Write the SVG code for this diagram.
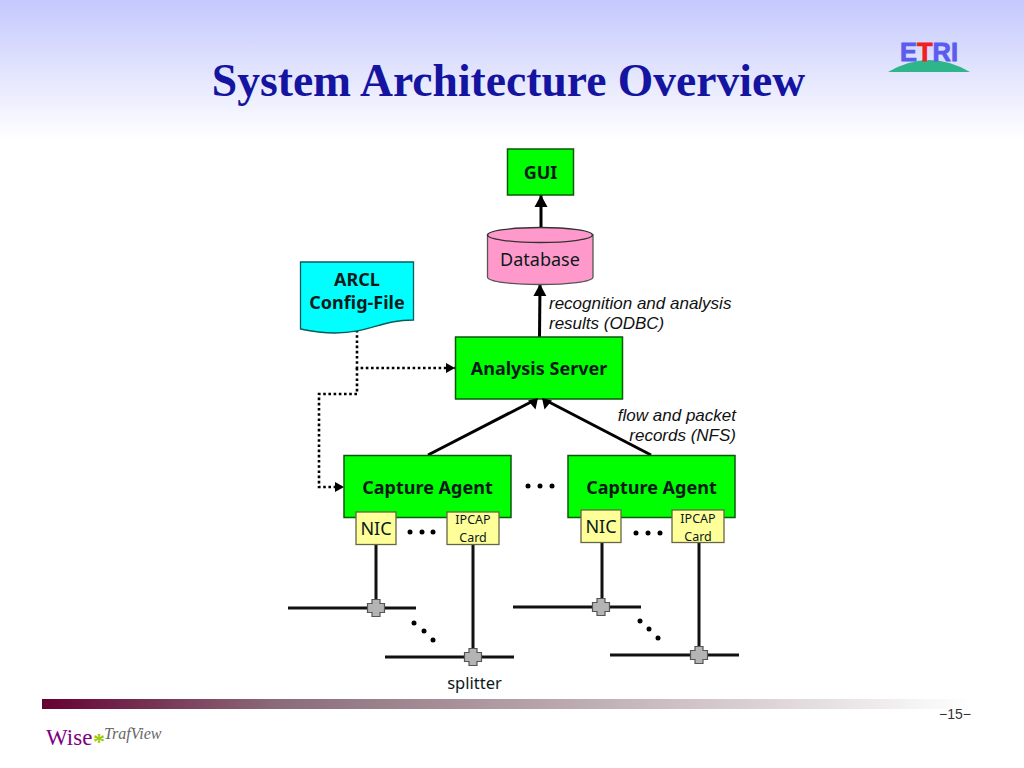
<svg xmlns="http://www.w3.org/2000/svg" width="1024" height="768" viewBox="0 0 1024 768">
<style>
.n{stroke:#0a5a0a;stroke-width:1.5;fill:#00ff00}
.y{fill:#ffff99;stroke:#666644;stroke-width:1.3}
.l{font-family:"Noto Sans",sans-serif;fill:#0a1a1a;text-anchor:middle}
.b{font-weight:bold;font-size:18px}
.i{font-family:"Liberation Sans",Arial,sans-serif;font-style:italic;font-size:17px;fill:#111}
.c{fill:none;stroke:#000;stroke-width:3}
.d{fill:none;stroke:#000;stroke-width:2.6;stroke-dasharray:2.6 2.6}
.w{fill:none;stroke:#111;stroke-width:3}
.s{fill:#b4b4b4;stroke:#555;stroke-width:1.2}
.dot{fill:#000}
</style>
<defs>
<linearGradient id="bg" x1="0" y1="0" x2="0" y2="1"><stop offset="0" stop-color="#c4c8fc"/><stop offset="1" stop-color="#ffffff"/></linearGradient>
<linearGradient id="bar" x1="0" y1="0" x2="1" y2="0"><stop offset="0" stop-color="#660033"/><stop offset="0.25" stop-color="#8a6a78"/><stop offset="1" stop-color="#ffffff"/></linearGradient>
<marker id="a" markerUnits="userSpaceOnUse" markerWidth="14" markerHeight="14" refX="12" refY="7" orient="auto"><path d="M0 0.500L12 7L0 13.500z" fill="#000"/></marker>
<marker id="a2" markerUnits="userSpaceOnUse" markerWidth="10" markerHeight="10" refX="9" refY="5" orient="auto"><path d="M0 0L9 5L0 10z" fill="#000"/></marker>
<path id="sp" class="s" d="M-4 -8.500H4V-4.500H8.500V4.500H4V8.500H-4V4.500H-8.500V-4.500H-4z"/>
</defs>
<rect width="1024" height="140" fill="url(#bg)"/>
<text x="508.500" y="96" font-family="Liberation Serif,serif" font-weight="bold" font-size="45.600" fill="#1414a0" text-anchor="middle">System Architecture Overview</text>
<g id="etri-logo">
<path d="M888 72Q929 48 970 72z" fill="#2fb58a"/>
<text x="929" y="61" font-family="Liberation Sans,sans-serif" font-weight="bold" font-size="26" fill="#5a5cf0" stroke="#5a5cf0" stroke-width="0.800" text-anchor="middle" textLength="58" lengthAdjust="spacingAndGlyphs">E<tspan fill="#f02020" stroke="#f02020">T</tspan>RI</text>
</g>
<g id="connectors">
<path class="c" d="M541 228V195" marker-end="url(#a)"/>
<path class="c" d="M539.500 337L540 284" marker-end="url(#a)"/>
<path class="c" d="M428 455L531 402"/>
<path class="c" d="M651 455L549 402"/>
<path class="d" d="M357 330V368H455" marker-end="url(#a2)"/>
<path class="d" d="M357 368V394H319V487H344" marker-end="url(#a2)"/>
<path class="w" d="M376 545V608M288 608H416M473 545V657M385 657H514M602 543V607M513 607H641M699 543V655M610 655H739"/>
</g>
<g id="gui"><rect class="n" x="507.500" y="149" width="66" height="46"/><text class="l b" x="540.500" y="179">GUI</text></g>
<g id="database">
<path d="M487.500 235V277C487.500 287 593 287 593 277V235z" fill="#ff99cc" stroke="#555" stroke-width="1.3"/>
<ellipse cx="540" cy="235" rx="52.500" ry="7.500" fill="#ff99cc" stroke="#333" stroke-width="1.3"/>
<text class="l" x="540" y="266" font-size="18">Database</text>
</g>
<g id="arcl">
<path d="M300.500 262H413.500V320C380 320 370 333 335 333C320 333 310 331 300.500 329z" fill="#00ffff" stroke="#0a5a5a" stroke-width="1.3"/>
<text class="l b" x="357" y="286">ARCL</text><text class="l b" x="357" y="309">Config-File</text>
</g>
<g id="analysis"><rect class="n" x="455.500" y="337" width="167" height="62"/><text class="l b" x="539" y="375">Analysis Server</text></g>
<g id="agent1"><rect class="n" x="344" y="455.500" width="167" height="62"/><text class="l b" x="427.500" y="494">Capture Agent</text></g>
<g id="agent2"><rect class="n" x="568" y="455.500" width="167" height="62"/><text class="l b" x="651.500" y="494">Capture Agent</text></g>
<g id="nic1"><rect class="y" x="356" y="512" width="40" height="32.500"/><text class="l" x="376" y="535" font-size="18">NIC</text></g>
<g id="ipcap1"><rect class="y" x="447" y="512" width="52" height="32.500"/><text class="l" x="473" y="524" font-size="12.500">IPCAP</text><text class="l" x="473" y="542" font-size="12.500">Card</text></g>
<g id="nic2"><rect class="y" x="581" y="510" width="40" height="32.500"/><text class="l" x="601" y="533" font-size="18">NIC</text></g>
<g id="ipcap2"><rect class="y" x="672" y="510" width="52" height="32.500"/><text class="l" x="698" y="523" font-size="12.500">IPCAP</text><text class="l" x="698" y="541" font-size="12.500">Card</text></g>
<g id="arrowheads"><path fill="#000" d="M538 398L528 400.500L535.500 409.500zM542 398L552 400.500L544.500 409.500z"/></g>
<g id="splitters">
<use href="#sp" x="376" y="608"/><use href="#sp" x="473" y="657"/><use href="#sp" x="601" y="607"/><use href="#sp" x="699" y="655"/>
</g>
<g id="ellipses" class="dot">
<circle cx="528" cy="486" r="2.500"/><circle cx="540" cy="486" r="2.500"/><circle cx="552" cy="486" r="2.500"/>
<circle cx="410" cy="532" r="2.500"/><circle cx="422" cy="532" r="2.500"/><circle cx="433" cy="532" r="2.500"/>
<circle cx="636" cy="533" r="2.500"/><circle cx="648" cy="533" r="2.500"/><circle cx="660" cy="533" r="2.500"/>
<circle cx="414" cy="623" r="2.500"/><circle cx="424" cy="631" r="2.500"/><circle cx="433" cy="640" r="2.500"/>
<circle cx="640" cy="621" r="2.500"/><circle cx="649" cy="629" r="2.500"/><circle cx="658" cy="638" r="2.500"/>
</g>
<g id="labels">
<text class="i" x="549" y="309">recognition and analysis</text>
<text class="i" x="549" y="329">results (ODBC)</text>
<text class="i" x="736" y="421" text-anchor="end">flow and packet</text>
<text class="i" x="736" y="441" text-anchor="end">records (NFS)</text>
<text class="l" x="474.500" y="689" font-size="16.500">splitter</text>
</g>
<g id="footer">
<rect x="42" y="699" width="930" height="10" fill="url(#bar)"/>
<text x="955" y="719" font-family="Liberation Sans,sans-serif" font-size="14" fill="#333" text-anchor="middle">−15−</text>
<text x="46" y="745" font-family="Liberation Serif,serif" font-size="23" fill="#800080">Wise</text>
<text x="93" y="749" font-family="Liberation Serif,serif" font-weight="bold" font-size="24" fill="#99cc00">*</text>
<text x="104" y="739" font-family="Liberation Serif,serif" font-style="italic" font-size="16" fill="#666">TrafView</text>
</g>
</svg>
